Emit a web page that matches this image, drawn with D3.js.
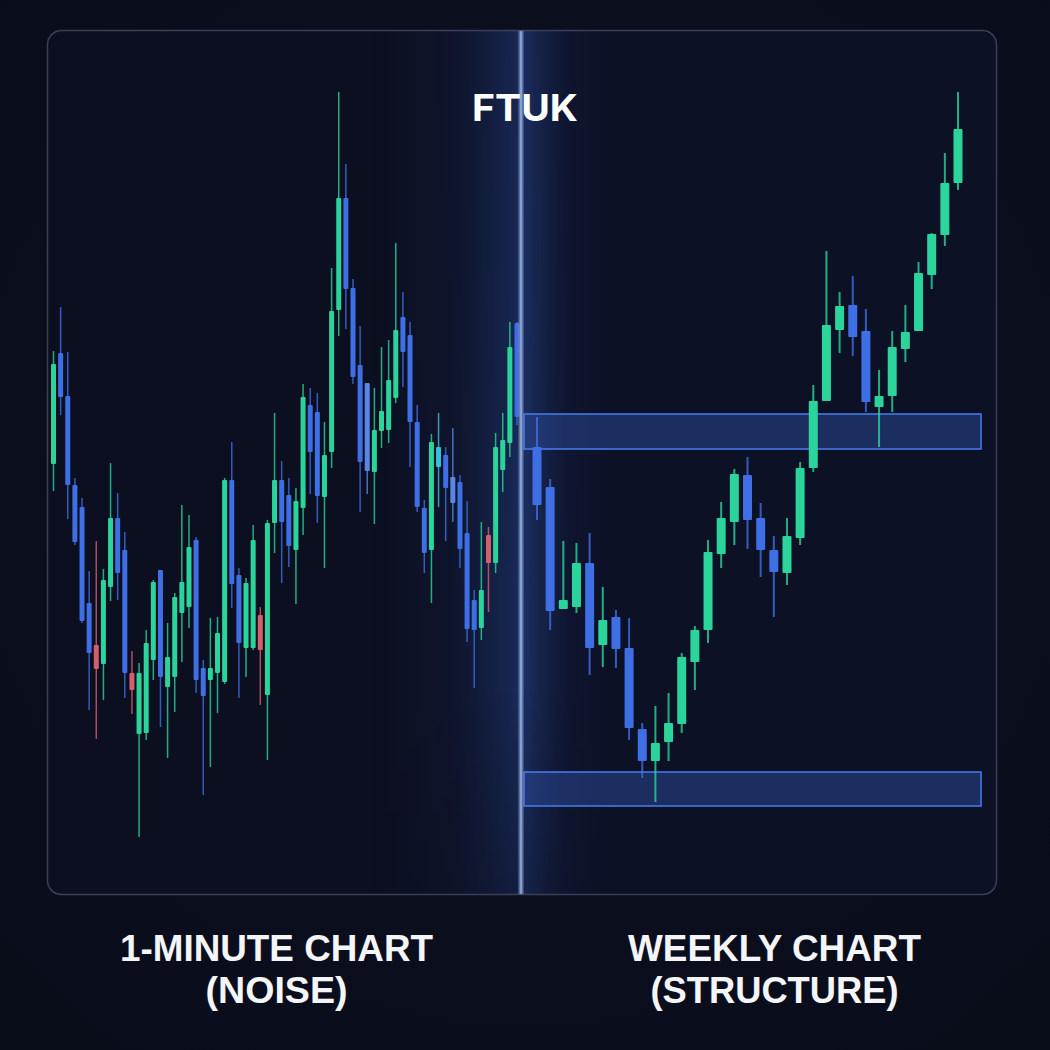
<html>
<head>
<style>
  body { margin: 0; background: #0a0d1b; }
  svg { display: block; }
</style>
<script src="https://d3js.org/d3.v7.min.js"></script>
</head>
<body>
<script type="text/javascript">
// ---- 1-minute chart (left panel) ----
var minuteOpen  = [43.6,54.7,50.4,41.5,39.3,29.7,25.5,23.6,31.3,38.2,35.0,22.7,16.6,16.7,24.0,33.0,21.3,22.3,28.7,29.3,36.0,23.2,22.0,22.7,21.8,42.0,32.5,25.2,25.2,28.5,20.5,37.7,42.0,40.5,35.0,39.2,49.5,48.8,40.3,44.8,59.0,70.2,61.2,53.5,51.7,42.8,46.9,47.0,50.2,58.3,56.5,47.8,39.2,35.0,43.3,44.5,42.3,41.8,36.7,30.0,27.2,36.5,33.7,43.0,45.7,57.7];
var minuteHigh  = [54.9,59.3,54.8,42.2,40.2,32.9,35.9,33.1,43.7,40.7,36.8,24.9,23.7,27.0,32.0,33.0,27.7,30.7,39.5,38.5,36.3,24.0,28.2,28.3,42.2,45.8,33.2,32.2,37.5,29.3,38.0,48.7,43.9,42.2,41.2,51.6,51.2,50.7,47.8,63.2,80.8,73.6,62.1,57.4,51.7,51.2,55.3,56.0,65.7,60.8,57.8,49.5,40.0,46.6,48.7,45.3,47.2,42.5,39.9,31.0,37.8,37.3,46.7,48.7,57.8,57.8];
var minuteLow   = [40.9,48.5,38.1,35.5,27.7,19.0,16.1,20.0,29.9,30.0,20.2,18.6,6.3,16.0,22.0,17.3,14.2,18.8,23.8,27.2,20.7,10.5,13.3,18.7,21.6,29.2,20.2,22.3,25.0,19.5,14.0,34.7,31.7,33.3,29.6,36.5,40.6,37.7,33.2,43.2,56.4,57.1,51.6,38.8,40.6,37.6,45.2,45.7,49.7,51.3,43.3,38.8,32.7,29.7,39.3,35.9,37.8,33.2,25.8,21.2,26.0,28.8,32.7,40.8,44.3,47.5];
var minuteClose = [53.6,50.3,41.5,35.8,27.9,24.7,23.1,32.0,38.2,32.7,22.7,21.0,22.7,25.7,31.8,22.3,24.3,30.3,31.8,35.3,22.0,20.4,23.2,26.7,42.0,31.6,25.7,31.7,36.0,25.0,37.7,42.0,37.8,35.4,39.9,50.3,44.8,40.4,44.5,58.9,70.2,61.1,52.3,43.8,42.9,47.0,48.9,52.0,57.0,54.8,47.8,39.3,34.7,45.8,45.3,41.2,39.7,35.1,27.1,27.0,31.0,33.7,45.3,46.0,55.3,48.3];
var minuteRed   = [6, 11, 29, 61];   // the few reddish candles
var minutePale  = [44, 56];          // lighter blue ones
var minuteCyan  = [54];

// ---- weekly chart (right panel) ----
var weeklyOpen  = [45.3,41.3,29.1,29.3,33.7,25.5,28.3,25.2,17.1,13.9,15.8,17.6,23.8,27.0,34.6,37.8,42.5,38.2,35.0,32.7,36.2,43.2,49.9,57.0,59.5,56.9,49.3,50.4,55.1,56.9,62.5,66.5,71.7];
var weeklyHigh  = [48.3,42.1,35.9,35.7,36.7,31.3,29.0,28.2,17.7,19.4,20.7,24.7,27.4,36.0,39.8,43.1,44.3,39.7,36.4,38.2,43.8,51.5,64.9,60.8,62.4,59.1,53.0,56.9,59.5,63.8,66.7,74.7,80.8];
var weeklyLow   = [38.0,27.0,29.1,28.7,22.5,23.3,23.2,16.0,12.2,9.8,13.9,16.7,21.0,25.7,33.2,35.5,35.1,32.3,28.3,31.5,35.5,42.8,49.9,54.7,54.4,48.8,45.3,48.8,53.8,56.9,61.1,65.4,71.0];
var weeklyClose = [39.5,28.9,30.0,33.7,25.2,28.0,25.1,17.2,13.9,15.7,17.7,24.3,27.0,34.8,38.2,42.6,38.0,35.0,32.8,36.4,43.2,49.9,57.5,59.4,56.3,49.8,50.4,55.3,56.8,62.7,66.6,71.7,77.1];

// support / resistance zones
var zoneLow  = [45.1, 9.4];
var zoneHigh = [48.6, 12.8];

var logoText = "FTUK";
var leftTitle  = ["1-MINUTE CHART", "(NOISE)"];
var rightTitle = ["WEEKLY CHART", "(STRUCTURE)"];

var screen = {width: 1050, height: 1050};
var panel = {x: 47.5, y: 30.5, w: 949, h: 864};
var dividerX = 521;

var green = "#2bd49b", blue = "#3e6fe4", pale = "#5a86e6", cyan = "#3bbfd6", red = "#d45f6c";

var yScale = d3.scaleLinear().domain([0, 90]).range([900, 0]);

var xLeft = d3.scalePoint()
  .domain(d3.range(minuteOpen.length))
  .range([53.5, 517]);

var xRight = d3.scalePoint()
  .domain(d3.range(weeklyOpen.length))
  .range([537, 958]);

var svg = d3.select("body").append("svg")
  .attr("width", screen.width)
  .attr("height", screen.height);

var defs = svg.append("defs");

var bg = defs.append("radialGradient").attr("id", "bg")
  .attr("cx", "50%").attr("cy", "45%").attr("r", "70%");
bg.append("stop").attr("offset", "0%").attr("stop-color", "#0e1224");
bg.append("stop").attr("offset", "100%").attr("stop-color", "#090c19");

// soft blue haze around the divider
var glow = defs.append("linearGradient").attr("id", "glow")
  .attr("x1", "0").attr("x2", "1").attr("y1", "0").attr("y2", "0");
glow.append("stop").attr("offset", "0%").attr("stop-color", "#2a4fa8").attr("stop-opacity", 0);
glow.append("stop").attr("offset", "35%").attr("stop-color", "#2a4fa8").attr("stop-opacity", 0.1);
glow.append("stop").attr("offset", "60%").attr("stop-color", "#3160c4").attr("stop-opacity", 0.32);
glow.append("stop").attr("offset", "63%").attr("stop-color", "#3563c8").attr("stop-opacity", 0.4);
glow.append("stop").attr("offset", "68%").attr("stop-color", "#3563c8").attr("stop-opacity", 0.28);
glow.append("stop").attr("offset", "82%").attr("stop-color", "#2a4fa8").attr("stop-opacity", 0.08);
glow.append("stop").attr("offset", "100%").attr("stop-color", "#2a4fa8").attr("stop-opacity", 0);

var fade = defs.append("linearGradient").attr("id", "fade")
  .attr("x1", "0").attr("x2", "0").attr("y1", "0").attr("y2", "1");
fade.append("stop").attr("offset", "0%").attr("stop-color", "white").attr("stop-opacity", 0.9);
fade.append("stop").attr("offset", "65%").attr("stop-color", "white").attr("stop-opacity", 1);
fade.append("stop").attr("offset", "100%").attr("stop-color", "white").attr("stop-opacity", 0.3);
defs.append("mask").attr("id", "fadeMask")
  .append("rect").attr("x", 0).attr("y", 0).attr("width", screen.width).attr("height", screen.height)
  .attr("fill", "url(#fade)");

var line = defs.append("linearGradient").attr("id", "divline")
  .attr("x1", "0").attr("x2", "1").attr("y1", "0").attr("y2", "0");
line.append("stop").attr("offset", "0%").attr("stop-color", "#5f82c8").attr("stop-opacity", 0.25);
line.append("stop").attr("offset", "50%").attr("stop-color", "#b9c9ea").attr("stop-opacity", 0.9);
line.append("stop").attr("offset", "100%").attr("stop-color", "#5f82c8").attr("stop-opacity", 0.25);

defs.append("clipPath").attr("id", "panelClip")
  .append("rect")
  .attr("x", panel.x).attr("y", panel.y).attr("width", panel.w).attr("height", panel.h)
  .attr("rx", 14);

// background + panel
svg.append("rect").attr("width", screen.width).attr("height", screen.height).attr("fill", "url(#bg)");

svg.append("rect")
  .attr("x", panel.x).attr("y", panel.y).attr("width", panel.w).attr("height", panel.h)
  .attr("rx", 14)
  .attr("fill", "#0c0f20");

var inner = svg.append("g").attr("clip-path", "url(#panelClip)");

// faint blue tint on the weekly side
inner.append("rect")
  .attr("x", dividerX).attr("y", panel.y).attr("width", panel.x + panel.w - dividerX).attr("height", panel.h)
  .attr("fill", "#101735").attr("opacity", 0.35);

inner.append("rect")
  .attr("x", dividerX - 150).attr("y", panel.y).attr("width", 240).attr("height", panel.h)
  .attr("fill", "url(#glow)")
  .attr("mask", "url(#fadeMask)");

// zones
inner.selectAll("rect.zone")
  .data(zoneLow)
  .enter()
  .append("rect")
  .attr("class", "zone")
  .attr("x", dividerX + 3)
  .attr("y", function(d, i) { return yScale(zoneHigh[i]); })
  .attr("width", 981 - dividerX - 3)
  .attr("height", function(d, i) { return yScale(d) - yScale(zoneHigh[i]); })
  .attr("fill", "#2b4a9a")
  .attr("fill-opacity", 0.5)
  .attr("stroke", "#4677e6")
  .attr("stroke-width", 1.6);

var drawCandles = function(g, x, open, high, low, close, bodyW, wickW, colorOf) {
  var c = g.selectAll("g.candle")
    .data(open)
    .enter()
    .append("g")
    .attr("class", "candle");

  c.append("line")
    .attr("x1", function(d, i) { return x(i); })
    .attr("x2", function(d, i) { return x(i); })
    .attr("y1", function(d, i) { return yScale(high[i]); })
    .attr("y2", function(d, i) { return yScale(low[i]); })
    .attr("stroke", function(d, i) { return colorOf(i); })
    .attr("stroke-opacity", 0.8)
    .attr("stroke-width", wickW);

  c.append("rect")
    .attr("x", function(d, i) { return x(i) - bodyW / 2; })
    .attr("y", function(d, i) { return yScale(Math.max(d, close[i])); })
    .attr("width", bodyW)
    .attr("height", function(d, i) {
      return Math.max(2, Math.abs(yScale(d) - yScale(close[i])));
    })
    .attr("rx", 1)
    .attr("fill", function(d, i) { return colorOf(i); });
};

var leftG = inner.append("g");
drawCandles(leftG, xLeft, minuteOpen, minuteHigh, minuteLow, minuteClose, 5, 1.5, function(i) {
  if (minuteRed.indexOf(i) >= 0) return red;
  if (minutePale.indexOf(i) >= 0) return pale;
  if (minuteCyan.indexOf(i) >= 0) return cyan;
  return minuteClose[i] >= minuteOpen[i] ? green : blue;
});

var rightG = inner.append("g");
drawCandles(rightG, xRight, weeklyOpen, weeklyHigh, weeklyLow, weeklyClose, 9, 2, function(i) {
  return weeklyClose[i] >= weeklyOpen[i] ? green : blue;
});

// divider line
inner.append("rect")
  .attr("x", dividerX - 3).attr("y", panel.y).attr("width", 6).attr("height", panel.h)
  .attr("fill", "url(#divline)");

// panel border on top
svg.append("rect")
  .attr("x", panel.x).attr("y", panel.y).attr("width", panel.w).attr("height", panel.h)
  .attr("rx", 14)
  .attr("fill", "none")
  .attr("stroke", "#5a6079")
  .attr("stroke-opacity", 0.6)
  .attr("stroke-width", 1.5);

// logo
svg.append("text")
  .attr("x", 525)
  .attr("y", 121)
  .attr("text-anchor", "middle")
  .attr("textLength", 106)
  .attr("lengthAdjust", "spacingAndGlyphs")
  .style("font-family", "Inter, 'Open Sans', sans-serif")
  .style("font-weight", 700)
  .style("font-size", "37px")
  .attr("fill", "#ffffff")
  .text(logoText);

// titles under the panel (tight two-line labels)
var titleWidths = [[313, 142], [293, 248]];
[leftTitle, rightTitle].forEach(function(t, k) {
  var cx = k == 0 ? 276.5 : 774.5;
  t.forEach(function(s, j) {
    svg.append("text")
      .attr("x", cx)
      .attr("y", j == 0 ? 961 : 1003)
      .attr("text-anchor", "middle")
      .attr("textLength", titleWidths[k][j])
      .attr("lengthAdjust", "spacingAndGlyphs")
      .style("font-family", "'Liberation Sans', Arial, sans-serif")
      .style("font-weight", 700)
      .style("font-size", "37px")
      .attr("fill", "#f4f5f8")
      .text(s);
  });
});
</script>
</body>
</html>
